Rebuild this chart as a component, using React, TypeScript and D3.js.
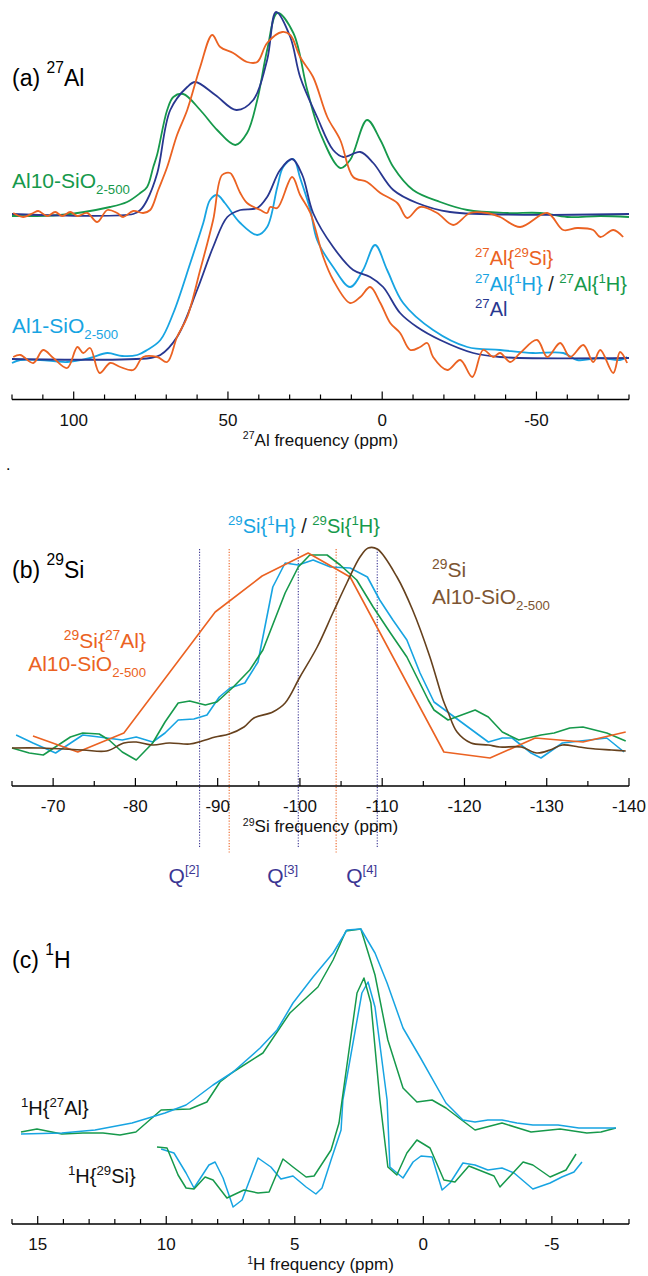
import React from 'react';
import * as d3 from 'd3';

type P = [number, number];

// ---------- Panel (a) 27Al : [ppm, intensity] ----------
const aAl10_27Al: P[] = [
  [120, 0], [80.7, 0], [78.4, 4], [76.2, 14], [72.9, 41], [68.7, 104], [63.2, 127], [60.6, 132],
  [54.1, 119], [47.3, 104], [41.8, 114], [37.3, 154], [34.4, 202], [29.8, 177], [26.6, 137],
  [21.1, 97], [15.9, 64], [12.6, 57], [7.1, 62], [2.9, 51], [-3.6, 24], [-11.3, 11], [-22, 2], [-80, 0],
];
const aAl10_27Al1H: P[] = [
  [120, -2], [104.4, -1], [88.2, 7], [82.7, 12], [78.4, 21], [76.2, 27], [74.2, 47], [72.9, 60],
  [69.7, 104], [67.7, 117], [64.5, 120], [59, 104], [53.5, 84], [47.6, 69], [43.8, 81], [40.5, 114],
  [37.3, 164], [34, 201], [28.8, 181], [24.3, 124], [20.1, 81], [13.6, 46], [10.4, 54], [4.9, 94],
  [0.6, 74], [-3.6, 47], [-10, 24], [-18.8, 12], [-27.6, 4], [-40.5, 1], [-51.2, 1], [-60, -3],
  [-70.7, -2], [-80, -3],
];
const aAl10_27Al29Si: P[] = [
  [119.6, 1], [116.4, -3], [113.1, 1], [111.5, 3], [108.6, -2], [106, 2], [103.7, -2], [101.1, 2],
  [98.8, -2], [95.6, 1], [92.4, -8], [89.1, 4], [85.9, 1], [84, -3], [80.7, 3], [77.5, 1], [75.2, 4],
  [72.6, 24], [69.7, 47], [66.5, 79], [63.2, 104], [59, 147], [55.1, 179], [52.5, 167], [48.3, 161],
  [43.8, 152], [40.5, 152], [37.3, 171], [32.4, 182], [29.8, 179], [26.6, 157], [22.4, 137],
  [17.8, 97], [13.6, 74], [9.4, 37], [4.9, 32], [0.6, 21], [-4.9, 11], [-8.1, -4], [-12.3, 7],
  [-17.8, 1], [-23, -11], [-28.5, 1], [-34, 1], [-38.2, -3], [-44.7, -13], [-53.5, 1], [-58.7, -16],
  [-63.2, -14], [-68.4, -16], [-70.7, -23], [-74.9, -16], [-78.1, -23],
];
const aAl1_27Al: P[] = [
  [120, 0], [75.2, 1], [71.9, 4], [66.5, 22], [60, 69], [54.8, 112], [50.2, 142], [46, 149],
  [40.5, 151], [37.3, 162], [33.1, 189], [29.2, 200], [25.9, 184], [22.4, 146], [15.9, 112],
  [9.4, 89], [3.9, 82], [-0.3, 72], [-5.8, 46], [-11.3, 32], [-18.8, 19], [-29.5, 6], [-38.2, 2], [-80, 1],
];
const aAl1_27Al1H: P[] = [
  [120, -4], [117.3, -1], [110.8, -1], [102.1, -3], [94.7, 1], [89.1, 6], [84.3, 3], [79.4, 4],
  [76.2, 9], [71.9, 19], [67.7, 46], [62.2, 96], [58, 136], [55.8, 159], [53.5, 164], [51, 156],
  [46, 136], [40.5, 124], [37.3, 132], [34, 172], [32.1, 192], [28.8, 200], [26.6, 181], [23.3, 149],
  [21.1, 119], [15.9, 92], [10.4, 72], [6.2, 89], [2.3, 114], [-1.6, 89], [-6.8, 56], [-16.5, 29],
  [-27.6, 12], [-38.2, 9], [-48.9, 6], [-58.7, 6], [-63.2, -1], [-70.7, 1], [-77.1, -1], [-79.4, 2],
];
const aAl1_27Al29Si: P[] = [
  [119.6, 2], [117.3, 4], [113.1, -4], [109.9, 9], [106.6, 1], [102.1, -9], [98.8, 12], [96.9, 6],
  [94.7, 11], [91.6, -14], [88.2, -4], [84.9, -8], [80.7, -11], [77.5, 2], [72.9, 2], [69.7, -3],
  [66.5, 22], [63.2, 42], [59, 89], [54.8, 139], [51.9, 184], [49.3, 186], [48.3, 182], [46, 166],
  [43.8, 156], [39.5, 149], [37.3, 146], [36.3, 152], [34, 151], [29.2, 182], [26.6, 164],
  [23.3, 146], [19.1, 102], [15.9, 79], [10.4, 56], [7.1, 62], [3.9, 72], [0.6, 56], [-2.6, 36],
  [-5.8, 26], [-9.1, 9], [-12.3, 12], [-14.6, 16], [-16.5, 2], [-21.1, -11], [-25.3, -1], [-29.2, -18],
  [-32.7, 9], [-36, 2], [-38.2, 6], [-41.5, -3], [-44.7, 6], [-50.2, 19], [-53.5, 2], [-57.7, 16],
  [-60.9, 2], [-65.2, 14], [-68.4, -3], [-70.7, 9], [-74.9, -14], [-77.1, 7], [-79.4, -4],
];

// ---------- Panel (b) 29Si ----------
const b29SiAl27: P[] = [
  [-67.55, 12], [-73.0, -4], [-78.6, 15], [-89.7, 136], [-95.4, 172], [-101, 195], [-106.1, 171],
  [-117.5, -4], [-123.1, -10], [-128.6, 10], [-134.4, 6], [-139.6, 16],
];
const b29Si1H_Al1: P[] = [
  [-65.5, 13], [-67.55, 5], [-70.3, -5], [-73.6, 13], [-75.6, 11], [-78.4, 8], [-80.1, 11], [-82.1, 6],
  [-83.6, 15], [-85.2, 28], [-87.1, 29], [-88.7, 33], [-90.2, 51], [-91.5, 60], [-93.3, 65],
  [-94.9, 86], [-96.7, 161], [-98.2, 185], [-99.8, 183], [-101.6, 188], [-103.7, 181], [-106.1, 180],
  [-108.2, 171], [-109.7, 148], [-111.3, 128], [-113, 108], [-114.6, 75], [-116.3, 46],
  [-122.9, 6], [-124.6, 10], [-125.8, 10], [-128.1, -5], [-129.3, -10], [-131.9, 5], [-137.3, 10], [-139.4, -4],
];
const b29Si1H_Al10: P[] = [
  [-65, 0], [-67.1, -5], [-68.8, -7], [-72.1, 11], [-73.6, 15], [-75.6, 14], [-76.8, 8], [-78.4, -4],
  [-80.1, -12], [-82.1, 5], [-83.6, 26], [-85.2, 45], [-86.6, 47], [-88.5, 43], [-89.9, 46],
  [-91.9, 61], [-93.9, 78], [-95.5, 98], [-98.2, 155], [-99.8, 181], [-101.2, 193], [-103.3, 193],
  [-104.9, 183], [-106.9, 168], [-108.9, 141], [-111, 115], [-113, 91], [-115.6, 48], [-116.3, 38],
  [-118, 28], [-121.3, 38], [-122.9, 31], [-124.6, 16], [-126.6, 8], [-129.3, 13], [-130.9, 15],
  [-132.8, 20], [-134.4, 21], [-137.3, 15], [-139.6, 7],
];
const b29Si_Al10: P[] = [
  [-65, 0], [-68.5, 0], [-73.6, -2], [-76.5, -3], [-78.6, 5], [-80.1, 6], [-82.1, 3], [-84.1, 5],
  [-86.6, 4], [-88.1, 7], [-89.7, 11], [-91.4, 14], [-93.2, 21], [-94.4, 30], [-96.7, 36],
  [-98.2, 45], [-100, 71], [-102.1, 101], [-104, 135], [-105.7, 165], [-107.3, 191], [-108.3, 200],
  [-109.4, 199], [-111.8, 171], [-113.7, 138], [-115.8, 91], [-117.4, 48], [-118, 36], [-119.1, 16],
  [-120.8, 5], [-122.9, 3], [-124.3, 1], [-126.9, 1], [-128.8, -5], [-130.4, -2], [-131.9, 3],
  [-133.9, 1], [-135.9, -1], [-137.9, -2], [-139.6, -3],
];
const bQLines: { ppm: number; kind: 'Q' | 'Al' }[] = [
  { ppm: -87.8, kind: 'Q' }, { ppm: -91.4, kind: 'Al' }, { ppm: -99.8, kind: 'Q' },
  { ppm: -104.4, kind: 'Al' }, { ppm: -109.4, kind: 'Q' },
];
const bQLabels = ['2', '3', '4'];

// ---------- Panel (c) 1H ----------
const c1H27Al_cyan: P[] = [
  [15.65, -4], [14.06, -3], [12.77, 0], [11.33, 7], [10.05, 17], [9.23, 25], [8.96, 30], [8.18, 45],
  [7.40, 58], [6.35, 82], [5.69, 100], [5.07, 127], [4.29, 153], [3.51, 177], [2.97, 200], [2.43, 201],
  [1.88, 177], [1.41, 147], [0.79, 102], [0.13, 73], [-0.88, 27], [-1.54, 10], [-2.01, 8], [-2.51, 10],
  [-3.06, 10], [-3.64, 7], [-4.26, 5], [-5.24, 5], [-6.05, 2], [-7.49, 2],
];
const c1H27Al_green: P[] = [
  [15.65, -2], [15.03, 1], [14.06, -4], [13.24, -3], [12.46, -3], [11.80, -5], [11.18, -2], [10.20, 20],
  [9.08, 21], [8.42, 28], [7.91, 48], [7.40, 58], [6.24, 77], [5.19, 117], [4.10, 143], [3.51, 170],
  [3.01, 199], [2.43, 201], [1.88, 155], [1.38, 90], [0.79, 42], [0.25, 28], [-0.34, 30], [-0.88, 22],
  [-1.39, 12], [-2.01, 0], [-3.06, 7], [-4.19, -2], [-5.32, 1], [-6.36, -3], [-6.91, -2], [-7.49, 2],
];
const c1H29Si_cyan: P[] = [
  [10.20, 31], [9.70, 27], [9.23, 7], [8.92, -8], [8.34, 15], [8.10, 18], [7.79, 2], [7.40, -27],
  [7.05, -20], [6.43, 22], [5.93, 13], [5.54, 1], [5.07, 4], [4.56, -7], [4.18, -14], [3.94, -8],
  [3.59, 20], [3.20, 50], [3.13, 80], [2.39, 187], [2.15, 198], [1.88, 173], [1.41, 80], [1.30, 13],
  [0.79, 2], [0.40, 18], [0.09, 24], [-0.34, 23], [-0.73, -10], [-1.04, -3], [-1.54, 17], [-2.01, 15],
  [-2.51, 10], [-3.06, 12], [-3.53, 7], [-4.26, -9], [-4.93, -3], [-5.39, 3], [-5.86, 8], [-6.17, 18],
];
const c1H29Si_green: P[] = [
  [10.36, 33], [9.97, 32], [9.54, 5], [9.23, -8], [8.92, -9], [8.49, 3], [8.18, 0], [7.64, -18],
  [6.98, -10], [6.43, -13], [6.00, -12], [5.46, 21], [5.07, 13], [4.56, 3], [4.25, 4], [3.59, 30],
  [3.28, 57], [3.16, 80], [2.58, 187], [2.31, 202], [2.04, 177], [1.69, 80], [1.38, 13], [1.03, 5],
  [0.64, 27], [0.25, 40], [-0.26, 32], [-0.80, 0], [-1.23, -2], [-1.77, 14], [-2.75, 4], [-2.98, -7],
  [-3.88, 18], [-4.26, 15], [-4.93, 3], [-5.55, 10], [-5.94, 26],
];

// ---------- Axes ----------
const aDomain: P = [120, -80];
const aMajor = [100, 50, 0, -50];
const aMinorStep = 10;
const bDomain: P = [-65, -140];
const bMajor = [-70, -80, -90, -100, -110, -120, -130, -140];
const bMinorStep = 5;
const cDomain: P = [16, -8];
const cMajor = [15, 10, 5, 0, -5];
const cMinorStep = 1;

const C = {
  orange: '#eb6222',
  navy: '#283790',
  green: '#16994b',
  cyan: '#17a4e2',
  brown: '#66411d',
  brownText: '#7d5532',
  indigo: '#3c3693',
};
const FONT = '"Liberation Sans", Arial, Helvetica, sans-serif';

type Part = { t: string; s?: 'sup' | 'sub'; c?: string };
function Rich({ x, y, size, parts, anchor = 'start', color = '#000', supShift = 0.38, ratio = 0.66 }:
  { x: number; y: number; size: number; parts: Part[]; anchor?: string; color?: string; supShift?: number; ratio?: number }) {
  let cur = 0;
  const spans = parts.map((p, i) => {
    const target = p.s === 'sup' ? -supShift * size : p.s === 'sub' ? 0.3 * size : 0;
    const dy = target - cur;
    cur = target;
    return (
      <tspan key={i} dy={dy} fontSize={p.s ? size * ratio : size} fill={p.c || color}>{p.t}</tspan>
    );
  });
  return (
    <text x={x} y={y} fontSize={size} textAnchor={anchor as any} fill={color} fontFamily={FONT} style={{ whiteSpace: 'pre' }}>
      {spans}
    </text>
  );
}

function Axis({ scale, y, domain, major, step, title }: { scale: d3.ScaleLinear<number, number>; y: number; domain: P; major: number[]; step: number; title: Part[] }) {
  const hi = Math.max(domain[0], domain[1]);
  const lo = Math.min(domain[0], domain[1]);
  const ticks: number[] = [];
  for (let v = hi; v >= lo - 1e-9; v -= step) ticks.push(Math.round(v * 1000) / 1000);
  const [r0, r1] = scale.range();
  return (
    <g>
      <line x1={r0} x2={r1} y1={y} y2={y} stroke="#000" strokeWidth={1.3} />
      {ticks.map((t) => {
        const isMajor = major.includes(t);
        return <line key={t} x1={scale(t)} x2={scale(t)} y1={y} y2={y - (isMajor ? 8 : 5)} stroke="#000" strokeWidth={1.2} />;
      })}
      {major.map((t) => (
        <text key={'l' + t} x={scale(t)} y={y + 26} textAnchor="middle" fontSize={17} fontFamily={FONT} fill="#111">{String(t)}</text>
      ))}
      <Rich x={(r0 + r1) / 2} y={y + 46} size={17} anchor="middle" parts={title} color="#111" ratio={0.62} supShift={0.38} />
    </g>
  );
}

export default function App() {
  const xA = d3.scaleLinear().domain(aDomain).range([12, 629]);
  const yATop = d3.scaleLinear().domain([0, 200]).range([214, 14]);
  const yABot = d3.scaleLinear().domain([0, 200]).range([359, 159]);
  const xB = d3.scaleLinear().domain(bDomain).range([12, 629]);
  const yB = d3.scaleLinear().domain([0, 200]).range([748, 548]);
  const xC = d3.scaleLinear().domain(cDomain).range([12, 629]);
  const yCBroad = d3.scaleLinear().domain([0, 200]).range([1130, 930]);
  const yCNarrow = d3.scaleLinear().domain([0, 200]).range([1180, 980]);

  const path = (data: P[], x: d3.ScaleLinear<number, number>, y: d3.ScaleLinear<number, number>, curve: d3.CurveFactory) =>
    d3.line<P>().x((d) => x(d[0])).y((d) => y(d[1])).curve(curve)(data) || '';

  const smooth = d3.curveCatmullRom.alpha(0.5);
  const lin = d3.curveLinear;

  const sup = (t: string, c?: string): Part => ({ t, s: 'sup', c });
  const sub = (t: string, c?: string): Part => ({ t, s: 'sub', c });
  const n = (t: string, c?: string): Part => ({ t, c });

  return (
    <svg width={648} height={1276} style={{ position: 'absolute', left: 0, top: 0, display: 'block' }} fontFamily={FONT}>
      <rect width={648} height={1276} fill="#fff" />
      {/* ---------- Panel (a) ---------- */}
      <g fill="none" strokeWidth={1.8} strokeLinejoin="round">
        <path d={path(aAl10_27Al1H, xA, yATop, smooth)} stroke={C.green} />
        <path d={path(aAl10_27Al, xA, yATop, smooth)} stroke={C.navy} />
        <path d={path(aAl10_27Al29Si, xA, yATop, smooth)} stroke={C.orange} />
        <path d={path(aAl1_27Al1H, xA, yABot, smooth)} stroke={C.cyan} />
        <path d={path(aAl1_27Al, xA, yABot, smooth)} stroke={C.navy} />
        <path d={path(aAl1_27Al29Si, xA, yABot, smooth)} stroke={C.orange} />
      </g>
      <Rich x={12} y={86} size={23} parts={[n('(a) '), sup('27'), n('Al')]} supShift={0.55} ratio={0.68} />
      <Rich x={12} y={188} size={21} color={C.green} parts={[n('Al10-SiO'), sub('2-500')]} ratio={0.63} />
      <Rich x={12} y={333} size={21} color={C.cyan} parts={[n('Al1-SiO'), sub('2-500')]} ratio={0.63} />
      <Rich x={475} y={265} size={20} color={C.orange} parts={[sup('27'), n('Al{'), sup('29'), n('Si}')]} />
      <Rich x={475} y={291} size={20} parts={[sup('27', C.cyan), n('Al{', C.cyan), sup('1', C.cyan), n('H}', C.cyan), n(' / ', '#222'), sup('27', C.green), n('Al{', C.green), sup('1', C.green), n('H}', C.green)]} />
      <Rich x={475} y={316} size={20} color={C.navy} parts={[sup('27'), n('Al')]} />
      <Axis scale={xA} y={399.5} domain={aDomain} major={aMajor} step={aMinorStep} title={[sup('27'), n('Al frequency (ppm)')]} />
      <text x={6} y={470} fontSize={16} fontFamily={FONT}>.</text>

      {/* ---------- Panel (b) ---------- */}
      {bQLines.map((q) => (
        <line key={q.ppm} x1={xB(q.ppm)} x2={xB(q.ppm)} y1={549} y2={q.kind === 'Q' ? 847 : 853}
          stroke={q.kind === 'Q' ? C.indigo : C.orange} strokeWidth={1.1} strokeDasharray="1.2 1.6" />
      ))}
      <g fill="none" strokeWidth={1.6} strokeLinejoin="round">
        <path d={path(b29Si1H_Al1, xB, yB, lin)} stroke={C.cyan} />
        <path d={path(b29Si1H_Al10, xB, yB, lin)} stroke={C.green} />
        <path d={path(b29SiAl27, xB, yB, lin)} stroke={C.orange} />
        <path d={path(b29Si_Al10, xB, yB, smooth)} stroke={C.brown} />
      </g>
      <Rich x={12} y={578} size={23} parts={[n('(b) '), sup('29'), n('Si')]} supShift={0.55} ratio={0.68} />
      <Rich x={228} y={533} size={20} parts={[sup('29', C.cyan), n('Si{', C.cyan), sup('1', C.cyan), n('H}', C.cyan), n(' / ', '#222'), sup('29', C.green), n('Si{', C.green), sup('1', C.green), n('H}', C.green)]} />
      <Rich x={146} y={648} size={21} anchor="end" color={C.orange} parts={[sup('29'), n('Si{'), sup('27'), n('Al}')]} />
      <Rich x={146} y={671} size={21} anchor="end" color={C.orange} parts={[n('Al10-SiO'), sub('2-500')]} ratio={0.63} />
      <Rich x={432} y={577} size={21} color={C.brownText} parts={[sup('29'), n('Si')]} />
      <Rich x={432} y={604} size={21} color={C.brownText} parts={[n('Al10-SiO'), sub('2-500')]} ratio={0.63} />
      <Axis scale={xB} y={786} domain={bDomain} major={bMajor} step={bMinorStep} title={[sup('29'), n('Si frequency (ppm)')]} />
      {bQLines.filter((q) => q.kind === 'Q').map((q, i) => (
        <Rich key={'q' + i} x={xB(q.ppm) - 31} y={883} size={21} color={C.indigo} parts={[n('Q'), sup('[' + bQLabels[i] + ']')]} supShift={0.42} ratio={0.62} />
      ))}

      {/* ---------- Panel (c) ---------- */}
      <g fill="none" strokeWidth={1.5} strokeLinejoin="round">
        <path d={path(c1H27Al_green, xC, yCBroad, lin)} stroke={C.green} />
        <path d={path(c1H27Al_cyan, xC, yCBroad, lin)} stroke={C.cyan} />
        <path d={path(c1H29Si_cyan, xC, yCNarrow, lin)} stroke={C.cyan} />
        <path d={path(c1H29Si_green, xC, yCNarrow, lin)} stroke={C.green} />
      </g>
      <Rich x={12} y={968} size={23} parts={[n('(c) '), sup('1'), n('H')]} supShift={0.55} ratio={0.68} />
      <Rich x={21} y={1115} size={20} color="#111" parts={[sup('1'), n('H{'), sup('27'), n('Al}')]} />
      <Rich x={68} y={1183} size={20} color="#111" parts={[sup('1'), n('H{'), sup('29'), n('Si}')]} />
      <Axis scale={xC} y={1224} domain={cDomain} major={cMajor} step={cMinorStep} title={[sup('1'), n('H frequency (ppm)')]} />
    </svg>
  );
}
